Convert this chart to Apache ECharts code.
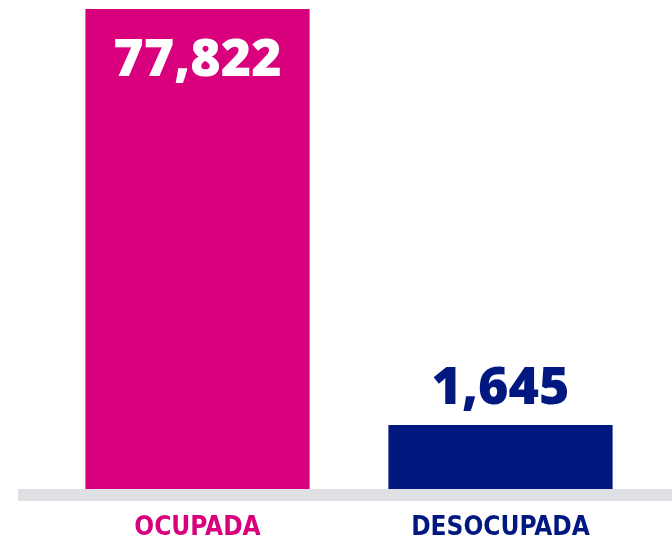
<!DOCTYPE html>
<html lang="es">
<head>
    <meta charset="UTF-8">
    <title>Población ocupada y desocupada</title>
    <script type="text/javascript" src="https://cdn.jsdelivr.net/npm/echarts@6/dist/echarts.min.js"></script>
    <style>
        html, body { margin: 0; padding: 0; background: #ffffff; }
        #chart { width: 672px; height: 539px; }
    </style>
</head>
<body>
<div id="chart"></div>
<script type="text/javascript">
// datos
var categorias = ['OCUPADA', 'DESOCUPADA'];
var valores = [77822, 1645];
var colores = ['#d9007e', '#001880'];

var chart = echarts.init(document.getElementById('chart'));

var barData = [];
for (var i = 0; i < valores.length; i++) {
    barData.push({
        value: valores[i],
        itemStyle: { color: colores[i] },
        label: i == 0 ? {
            position: 'insideTop',
            distance: 26,
            color: '#ffffff'
        } : {
            position: 'top',
            distance: 10,
            color: colores[i]
        }
    });
}

var option = {
    animation: false,
    grid: { left: 46, right: 20, top: 9, bottom: 50, outerBoundsMode: 'none' },
    xAxis: {
        type: 'category',
        data: categorias,
        axisLine: { show: false },
        axisTick: { show: false },
        axisLabel: {
            margin: 26,
            fontFamily: 'DejaVu Sans Condensed',
            fontWeight: 'bold',
            fontSize: 26,
            color: function (v, idx) { return colores[idx]; }
        }
    },
    yAxis: {
        type: 'log',
        min: 910,
        max: 77822,
        show: false,
        splitLine: { show: false }
    },
    series: [{
        type: 'bar',
        barWidth: '74%',
        clip: true,
        data: barData,
        label: {
            show: true,
            fontFamily: 'Open Sans',
            fontWeight: 800,
            fontSize: 52,
            formatter: function (p) { return p.value.toLocaleString('en-US'); }
        }
    }],
    graphic: [{
        type: 'rect',
        left: 18,
        top: 489,
        shape: { width: 654, height: 12 },
        style: { fill: '#dfe0e4' },
        z: 10
    }]
};

chart.setOption(option);
</script>
</body>
</html>
